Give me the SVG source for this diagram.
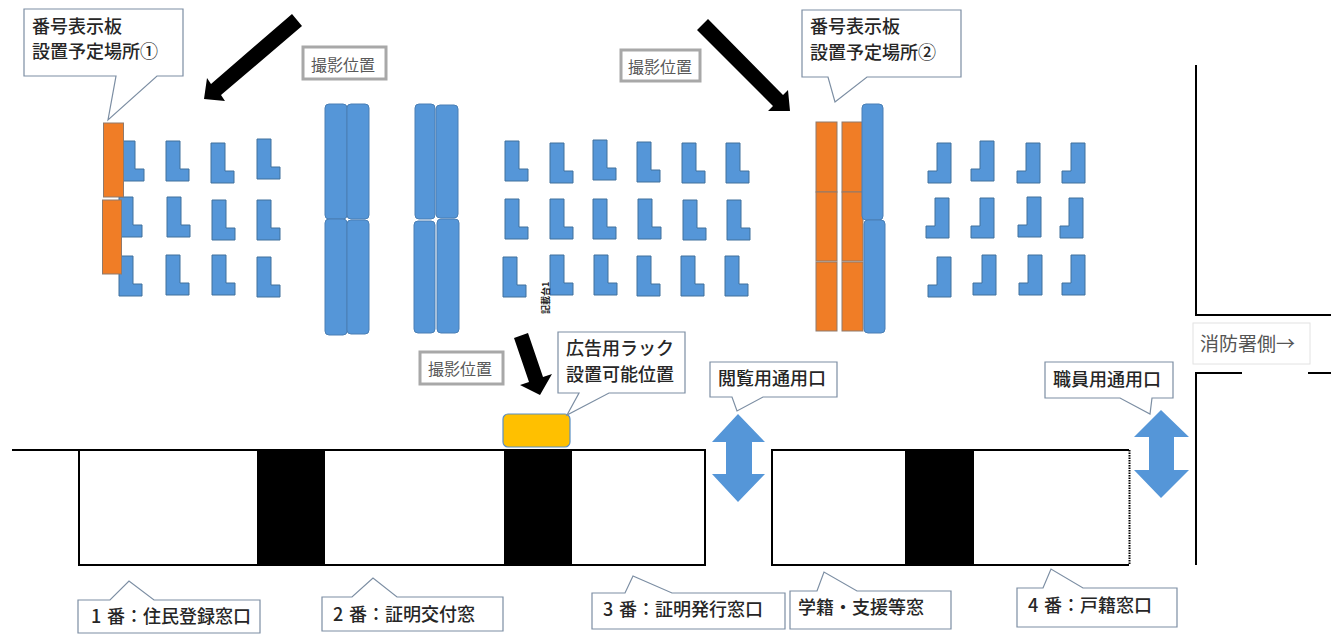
<svg xmlns="http://www.w3.org/2000/svg" width="1338" height="635" viewBox="0 0 1338 635">
<style>
text{font-family:"Noto Sans CJK JP","Noto Sans CJK SC",sans-serif}
.t{font-size:18px;fill:#262626;font-weight:500}
.g{font-size:16px;fill:#595959}
.call{fill:#fff;stroke:#7c8ea3;stroke-width:1.2}
.shot{fill:#fff;stroke:#a8a8a8;stroke-width:3}
.desk{fill:#5596d8;stroke:#41719c;stroke-width:1}
.col{fill:#5596d8;stroke:#4a7fb5;stroke-width:1}
.or{fill:#f07d26;stroke:#8f7a6c;stroke-width:1}
.blk{fill:#000}
.wall{stroke:#000;stroke-width:2;fill:none}
.dbl{fill:#5596d8}
</style>
<defs>
<path id="l" class="desk" d="M0 0H14V28H23V40H0Z"/>
<path id="r" class="desk" d="M23 0H9V28H0V40H23Z"/>
</defs>
<rect width="1338" height="635" fill="#fff"/>
<g id="building">
<path class="wall" d="M12 450H705V565H79V450"/>
<path class="wall" d="M1129 450H772V565H1129"/>
<path d="M1129.500 450V565" fill="none" stroke="#000" stroke-width="2" stroke-dasharray="1.500 1"/>
<rect class="blk" x="257" y="450" width="68" height="115"/>
<rect class="blk" x="504" y="450" width="68" height="115"/>
<rect class="blk" x="905" y="450" width="69" height="115"/>
<path class="wall" d="M1196 65V315H1331"/>
<path class="wall" d="M1331 373H1308M1242 373H1196V565"/>
</g>
<g id="desks-left">
<use href="#l" x="121" y="141"/><use href="#l" x="166" y="141"/><use href="#l" x="211" y="143"/><use href="#l" x="257" y="139"/>
<use href="#l" x="119" y="197"/><use href="#l" x="167" y="197"/><use href="#l" x="212" y="200"/><use href="#l" x="257" y="200"/>
<use href="#l" x="119" y="256"/><use href="#l" x="166" y="255"/><use href="#l" x="212" y="255"/><use href="#l" x="257" y="257"/>
</g>
<g id="desks-middle">
<use href="#l" x="505" y="141"/><use href="#l" x="550" y="143"/><use href="#l" x="593" y="140"/><use href="#l" x="637" y="142"/><use href="#l" x="682" y="143"/><use href="#l" x="726" y="143"/>
<use href="#l" x="505" y="199"/><use href="#l" x="550" y="199"/><use href="#l" x="593" y="199"/><use href="#l" x="638" y="199"/><use href="#l" x="683" y="200"/><use href="#l" x="727" y="200"/>
<use href="#l" x="503" y="257"/><use href="#l" x="550" y="255"/><use href="#l" x="594" y="255"/><use href="#l" x="637" y="256"/><use href="#l" x="681" y="256"/><use href="#l" x="725" y="256"/>
</g>
<g id="desks-right">
<use href="#r" x="928" y="143"/><use href="#r" x="971" y="141"/><use href="#r" x="1017" y="143"/><use href="#r" x="1062" y="143"/>
<use href="#r" x="926" y="198"/><use href="#r" x="971" y="198"/><use href="#r" x="1018" y="197"/><use href="#r" x="1060" y="198"/>
<use href="#r" x="928" y="257"/><use href="#r" x="973" y="255"/><use href="#r" x="1019" y="255"/><use href="#r" x="1062" y="255"/>
</g>
<g id="columns">
<rect class="col" x="325" y="104" width="22" height="115" rx="4"/><rect class="col" x="347" y="104" width="22" height="115" rx="4"/>
<rect class="col" x="325" y="219" width="22" height="116" rx="4"/><rect class="col" x="347" y="220" width="22" height="114" rx="4"/>
<rect class="col" x="415" y="104" width="20" height="115" rx="4"/><rect class="col" x="436" y="105" width="22" height="113" rx="4"/>
<rect class="col" x="414" y="221" width="21" height="112" rx="4"/><rect class="col" x="437" y="219" width="22" height="114" rx="4"/>
</g>
<g id="signs-1">
<rect class="or" x="103.500" y="123" width="20" height="74"/>
<rect class="or" x="102.500" y="200" width="19" height="74"/>
</g>
<g id="signs-2">
<rect class="or" x="816" y="122" width="21" height="70"/><rect class="or" x="816" y="192" width="21" height="69"/><rect class="or" x="816" y="262" width="21" height="69"/>
<rect class="or" x="842" y="122" width="21" height="70"/><rect class="or" x="842" y="192" width="21" height="69"/><rect class="or" x="842" y="262" width="21" height="69"/>
<rect class="col" x="862" y="104" width="21" height="116" rx="4"/><rect class="col" x="864" y="220" width="21" height="113" rx="4"/>
</g>
<g id="rack"><rect x="503" y="414" width="67" height="33" rx="5" fill="#ffc000" stroke="#5b8fc4" stroke-width="1.200"/></g>
<g id="connectors">
<path class="blk" d="M292 14L302 26L221 95L225 101L204 99L207 78L211 84Z"/>
<path class="blk" d="M708 19L697 30L773 106L768 111L790 111L788 90L783 95Z"/>
<path class="blk" d="M514 338L528 333L543 377L552 374L540 395L520 385L529 382Z"/>
<path class="dbl" d="M738 414L765 442H752V474H765L738 502L712 474H726V442H712Z"/>
<path class="dbl" d="M1161 410L1189 437H1174V470H1189L1161 498L1134 470H1149V437H1134Z"/>
</g>
<g id="callout-sign1"><path class="call" d="M24 9H183V76H157L108 120L116 76H24Z"/><text class="t" x="32" y="33">番号表示板</text><text class="t" x="32" y="58">設置予定場所①</text></g>
<g id="callout-sign2"><path class="call" d="M802 10H961V77H867L835 102L828 77H802Z"/><text class="t" x="810" y="33">番号表示板</text><text class="t" x="810" y="59">設置予定場所②</text></g>
<g id="callout-rack"><path class="call" d="M558 332H685V393H609L567 415L579 393H558Z"/><text class="t" x="566" y="355">広告用ラック</text><text class="t" x="566" y="381">設置可能位置</text></g>
<g id="callout-public"><path class="call" d="M710 362H837V397H763L737 411L732 397H710Z"/><text class="t" x="718" y="385">閲覧用通用口</text></g>
<g id="callout-staff"><path class="call" d="M1045 362H1173V398H1152L1150 414L1120 398H1045Z"/><text class="t" x="1053" y="386">職員用通用口</text></g>
<g id="shot-1"><rect class="shot" x="303" y="47" width="83" height="32"/><text class="g" x="311" y="71">撮影位置</text></g>
<g id="shot-2"><rect class="shot" x="621" y="50" width="79" height="31"/><text class="g" x="628" y="73">撮影位置</text></g>
<g id="shot-3"><rect class="shot" x="420" y="352" width="83" height="32"/><text class="g" x="428" y="375">撮影位置</text></g>
<g id="fire-label"><rect x="1193" y="323" width="117" height="41" fill="#fff" stroke="#e2e2e2"/><text x="1200" y="351" font-size="19" fill="#555">消防署側→</text></g>
<g id="desk-label"><text transform="translate(549 314) rotate(-90)" font-size="9" font-weight="700" fill="#222">記載台1</text></g>
<g id="window-1"><path class="call" d="M78 600H110L129 581L154 600H260V633H78Z"/><text class="t" x="91" y="623">1<tspan x="107">番：住民登録窓口</tspan></text></g>
<g id="window-2"><path class="call" d="M322 597H352L373 578L397 597H503V631H322Z"/><text class="t" x="333" y="621">2<tspan x="349">番：証明交付窓</tspan></text></g>
<g id="window-3"><path class="call" d="M592 593H625L633 576L672 593H785V629H592Z"/><text class="t" x="603" y="616">3<tspan x="619">番：証明発行窓口</tspan></text></g>
<g id="window-gaku"><path class="call" d="M790 591H817L824 572L857 591H951V629H790Z"/><text class="t" x="798" y="614">学籍・支援等窓</text></g>
<g id="window-4"><path class="call" d="M1017 588H1043L1051 569L1083 588H1177V627H1017Z"/><text class="t" x="1028" y="612">4<tspan x="1044">番：戸籍窓口</tspan></text></g>
</svg>
